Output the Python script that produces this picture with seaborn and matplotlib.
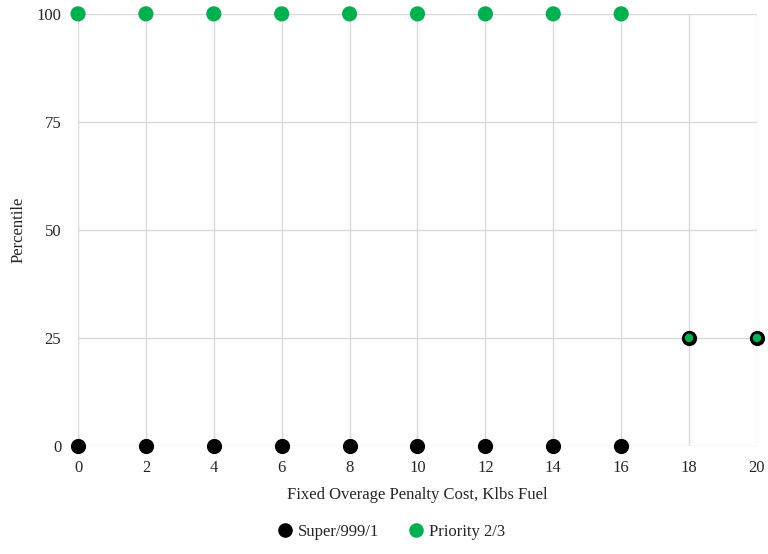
import pandas as pd
import seaborn as sns
import matplotlib.pyplot as plt
from matplotlib.lines import Line2D

# Data
penalty_cost = [0, 2, 4, 6, 8, 10, 12, 14, 16, 18, 20]
super_999_1 = [0, 0, 0, 0, 0, 0, 0, 0, 0, 25, 25]
priority_2_3 = [100, 100, 100, 100, 100, 100, 100, 100, 100, 25, 25]
series_names = ["Super/999/1", "Priority 2/3"]
series_colors = ["#000000", "#00b050"]

df = pd.DataFrame({"cost": penalty_cost, "super": super_999_1, "priority": priority_2_3})

sns.set_style("white")
plt.rcParams["font.family"] = ["Liberation Serif", "DejaVu Serif"]

fig = plt.figure(figsize=(7.68, 5.54), dpi=100)
ax = fig.add_axes([0.1016, 0.195, 0.884, 0.78])

sns.scatterplot(data=df, x="cost", y="super", color=series_colors[0], s=120,
                linewidth=0, ax=ax, clip_on=False, zorder=3)
sns.scatterplot(data=df, x="cost", y="priority", color=series_colors[1], s=120,
                linewidth=0, ax=ax, clip_on=False, zorder=4)
# where green sits on black, draw it smaller so the black shows as a ring
ax.collections[1].set_sizes([120] * 9 + [38] * 2)

ax.set_xlim(0, 20)
ax.set_ylim(0, 100)
ax.set_xticks(range(0, 21, 2))
ax.set_yticks([0, 25, 50, 75, 100])
ax.grid(True, color="#d9d9d9", linewidth=1)
ax.set_axisbelow(True)
for sp in ax.spines.values():
    sp.set_visible(False)
txt = "#262626"
ax.tick_params(axis="x", labelsize=12, length=0, pad=10, colors=txt)
ax.tick_params(axis="y", labelsize=12, length=0, pad=12, colors=txt)
ax.set_xlabel("Fixed Overage Penalty Cost, Klbs Fuel", fontsize=12, color=txt, labelpad=8)
ax.set_ylabel("Percentile", fontsize=12, color=txt, labelpad=7)

handles = [Line2D([], [], linestyle="none", marker="o", markersize=10.5,
                  markerfacecolor=c, markeredgewidth=0) for c in series_colors]
leg = ax.legend(handles, series_names, loc="upper center", bbox_to_anchor=(0.455, -0.145),
                ncol=2, frameon=False, fontsize=12, handletextpad=-0.2, columnspacing=1.2)
for t in leg.get_texts():
    t.set_color(txt)

fig.savefig("out.png", dpi=100)
